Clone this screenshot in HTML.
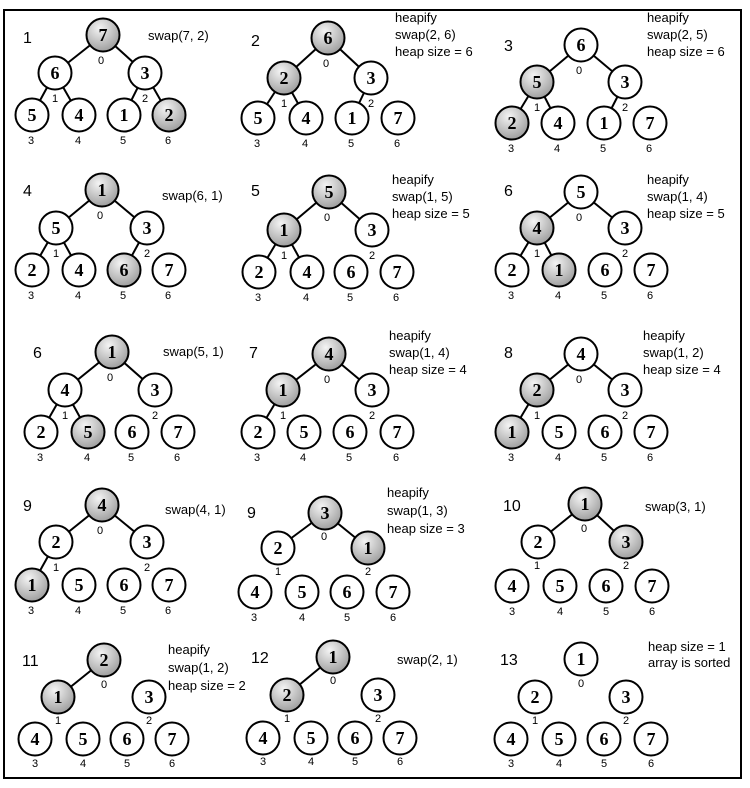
<!DOCTYPE html>
<html><head><meta charset="utf-8"><style>
html,body{margin:0;padding:0;background:#fff;}
svg{display:block}
.n circle{stroke:#000;stroke-width:2;fill:#fff}
.n circle.g{fill:url(#gr)}
.n text{font-family:"Liberation Serif",serif;font-weight:bold;font-size:18px;text-anchor:middle}
.i{font-family:"Liberation Sans",sans-serif;font-size:11px;text-anchor:middle}
.l{font-family:"Liberation Sans",sans-serif;font-size:13px}
.p{font-family:"Liberation Sans",sans-serif;font-size:16px}
line{stroke:#000;stroke-width:2}
</style></head><body>
<svg width="750" height="788" viewBox="0 0 750 788" xmlns="http://www.w3.org/2000/svg">
<defs><radialGradient id="gr" cx="0.4" cy="0.3" r="0.75"><stop offset="0" stop-color="#f4f4f4"/><stop offset="1" stop-color="#9a9a9a"/></radialGradient></defs>
<rect x="4" y="10" width="737" height="768" fill="none" stroke="#000" stroke-width="2"/>

<!-- P1 -->
<text class="p" x="23" y="43">1</text>
<text class="l" x="148" y="40">swap(7, 2)</text>
<line x1="103" y1="35" x2="55" y2="73"/><line x1="103" y1="35" x2="145" y2="73"/>
<line x1="55" y1="73" x2="32" y2="115"/><line x1="55" y1="73" x2="79" y2="115"/>
<line x1="145" y1="73" x2="124" y2="115"/><line x1="145" y1="73" x2="169" y2="115"/>
<g class="n"><circle class="g" cx="103" cy="35" r="16.5"/><text x="103" y="41">7</text>
<circle cx="55" cy="73" r="16.5"/><text x="55" y="79">6</text>
<circle cx="145" cy="73" r="16.5"/><text x="145" y="79">3</text>
<circle cx="32" cy="115" r="16.5"/><text x="32" y="121">5</text>
<circle cx="79" cy="115" r="16.5"/><text x="79" y="121">4</text>
<circle cx="124" cy="115" r="16.5"/><text x="124" y="121">1</text>
<circle class="g" cx="169" cy="115" r="16.5"/><text x="169" y="121">2</text></g>
<text class="i" x="101" y="64">0</text><text class="i" x="55" y="102">1</text><text class="i" x="145" y="102">2</text>
<text class="i" x="31" y="144">3</text><text class="i" x="78" y="144">4</text><text class="i" x="123" y="144">5</text><text class="i" x="168" y="144">6</text>

<!-- P2 -->
<text class="p" x="251" y="46">2</text>
<text class="l" x="395" y="22">heapify</text><text class="l" x="395" y="39">swap(2, 6)</text><text class="l" x="395" y="56">heap size = 6</text>
<line x1="328" y1="38" x2="284" y2="78"/><line x1="328" y1="38" x2="371" y2="78"/>
<line x1="284" y1="78" x2="258" y2="118"/><line x1="284" y1="78" x2="306" y2="118"/>
<line x1="371" y1="78" x2="352" y2="118"/>
<g class="n"><circle class="g" cx="328" cy="38" r="16.5"/><text x="328" y="44">6</text>
<circle class="g" cx="284" cy="78" r="16.5"/><text x="284" y="84">2</text>
<circle cx="371" cy="78" r="16.5"/><text x="371" y="84">3</text>
<circle cx="258" cy="118" r="16.5"/><text x="258" y="124">5</text>
<circle cx="306" cy="118" r="16.5"/><text x="306" y="124">4</text>
<circle cx="352" cy="118" r="16.5"/><text x="352" y="124">1</text>
<circle cx="398" cy="118" r="16.5"/><text x="398" y="124">7</text></g>
<text class="i" x="326" y="67">0</text><text class="i" x="284" y="107">1</text><text class="i" x="371" y="107">2</text>
<text class="i" x="257" y="147">3</text><text class="i" x="305" y="147">4</text><text class="i" x="351" y="147">5</text><text class="i" x="397" y="147">6</text>

<!-- P3 -->
<text class="p" x="504" y="51">3</text>
<text class="l" x="647" y="22">heapify</text><text class="l" x="647" y="39">swap(2, 5)</text><text class="l" x="647" y="56">heap size = 6</text>
<line x1="581" y1="45" x2="537" y2="82"/><line x1="581" y1="45" x2="625" y2="82"/>
<line x1="537" y1="82" x2="512" y2="123"/><line x1="537" y1="82" x2="558" y2="123"/>
<line x1="625" y1="82" x2="604" y2="123"/>
<g class="n"><circle cx="581" cy="45" r="16.5"/><text x="581" y="51">6</text>
<circle class="g" cx="537" cy="82" r="16.5"/><text x="537" y="88">5</text>
<circle cx="625" cy="82" r="16.5"/><text x="625" y="88">3</text>
<circle class="g" cx="512" cy="123" r="16.5"/><text x="512" y="129">2</text>
<circle cx="558" cy="123" r="16.5"/><text x="558" y="129">4</text>
<circle cx="604" cy="123" r="16.5"/><text x="604" y="129">1</text>
<circle cx="650" cy="123" r="16.5"/><text x="650" y="129">7</text></g>
<text class="i" x="579" y="74">0</text><text class="i" x="537" y="111">1</text><text class="i" x="625" y="111">2</text>
<text class="i" x="511" y="152">3</text><text class="i" x="557" y="152">4</text><text class="i" x="603" y="152">5</text><text class="i" x="649" y="152">6</text>

<!-- P4 -->
<text class="p" x="23" y="196">4</text>
<text class="l" x="162" y="200">swap(6, 1)</text>
<line x1="102" y1="190" x2="56" y2="228"/><line x1="102" y1="190" x2="147" y2="228"/>
<line x1="56" y1="228" x2="32" y2="270"/><line x1="56" y1="228" x2="79" y2="270"/>
<line x1="147" y1="228" x2="124" y2="270"/>
<g class="n"><circle class="g" cx="102" cy="190" r="16.5"/><text x="102" y="196">1</text>
<circle cx="56" cy="228" r="16.5"/><text x="56" y="234">5</text>
<circle cx="147" cy="228" r="16.5"/><text x="147" y="234">3</text>
<circle cx="32" cy="270" r="16.5"/><text x="32" y="276">2</text>
<circle cx="79" cy="270" r="16.5"/><text x="79" y="276">4</text>
<circle class="g" cx="124" cy="270" r="16.5"/><text x="124" y="276">6</text>
<circle cx="169" cy="270" r="16.5"/><text x="169" y="276">7</text></g>
<text class="i" x="100" y="219">0</text><text class="i" x="56" y="257">1</text><text class="i" x="147" y="257">2</text>
<text class="i" x="31" y="299">3</text><text class="i" x="78" y="299">4</text><text class="i" x="123" y="299">5</text><text class="i" x="168" y="299">6</text>

<!-- P5 -->
<text class="p" x="251" y="196">5</text>
<text class="l" x="392" y="184">heapify</text><text class="l" x="392" y="201">swap(1, 5)</text><text class="l" x="392" y="218">heap size = 5</text>
<line x1="329" y1="192" x2="284" y2="230"/><line x1="329" y1="192" x2="372" y2="230"/>
<line x1="284" y1="230" x2="259" y2="272"/><line x1="284" y1="230" x2="307" y2="272"/>
<g class="n"><circle class="g" cx="329" cy="192" r="16.5"/><text x="329" y="198">5</text>
<circle class="g" cx="284" cy="230" r="16.5"/><text x="284" y="236">1</text>
<circle cx="372" cy="230" r="16.5"/><text x="372" y="236">3</text>
<circle cx="259" cy="272" r="16.5"/><text x="259" y="278">2</text>
<circle cx="307" cy="272" r="16.5"/><text x="307" y="278">4</text>
<circle cx="351" cy="272" r="16.5"/><text x="351" y="278">6</text>
<circle cx="397" cy="272" r="16.5"/><text x="397" y="278">7</text></g>
<text class="i" x="327" y="221">0</text><text class="i" x="284" y="259">1</text><text class="i" x="372" y="259">2</text>
<text class="i" x="258" y="301">3</text><text class="i" x="306" y="301">4</text><text class="i" x="350" y="301">5</text><text class="i" x="396" y="301">6</text>

<!-- P6 -->
<text class="p" x="504" y="196">6</text>
<text class="l" x="647" y="184">heapify</text><text class="l" x="647" y="201">swap(1, 4)</text><text class="l" x="647" y="218">heap size = 5</text>
<line x1="581" y1="192" x2="537" y2="228"/><line x1="581" y1="192" x2="625" y2="228"/>
<line x1="537" y1="228" x2="512" y2="270"/><line x1="537" y1="228" x2="559" y2="270"/>
<g class="n"><circle cx="581" cy="192" r="16.5"/><text x="581" y="198">5</text>
<circle class="g" cx="537" cy="228" r="16.5"/><text x="537" y="234">4</text>
<circle cx="625" cy="228" r="16.5"/><text x="625" y="234">3</text>
<circle cx="512" cy="270" r="16.5"/><text x="512" y="276">2</text>
<circle class="g" cx="559" cy="270" r="16.5"/><text x="559" y="276">1</text>
<circle cx="605" cy="270" r="16.5"/><text x="605" y="276">6</text>
<circle cx="651" cy="270" r="16.5"/><text x="651" y="276">7</text></g>
<text class="i" x="579" y="221">0</text><text class="i" x="537" y="257">1</text><text class="i" x="625" y="257">2</text>
<text class="i" x="511" y="299">3</text><text class="i" x="558" y="299">4</text><text class="i" x="604" y="299">5</text><text class="i" x="650" y="299">6</text>

<!-- P7 -->
<text class="p" x="33" y="358">6</text>
<text class="l" x="163" y="356">swap(5, 1)</text>
<line x1="112" y1="352" x2="65" y2="390"/><line x1="112" y1="352" x2="155" y2="390"/>
<line x1="65" y1="390" x2="41" y2="432"/><line x1="65" y1="390" x2="88" y2="432"/>
<g class="n"><circle class="g" cx="112" cy="352" r="16.5"/><text x="112" y="358">1</text>
<circle cx="65" cy="390" r="16.5"/><text x="65" y="396">4</text>
<circle cx="155" cy="390" r="16.5"/><text x="155" y="396">3</text>
<circle cx="41" cy="432" r="16.5"/><text x="41" y="438">2</text>
<circle class="g" cx="88" cy="432" r="16.5"/><text x="88" y="438">5</text>
<circle cx="132" cy="432" r="16.5"/><text x="132" y="438">6</text>
<circle cx="178" cy="432" r="16.5"/><text x="178" y="438">7</text></g>
<text class="i" x="110" y="381">0</text><text class="i" x="65" y="419">1</text><text class="i" x="155" y="419">2</text>
<text class="i" x="40" y="461">3</text><text class="i" x="87" y="461">4</text><text class="i" x="131" y="461">5</text><text class="i" x="177" y="461">6</text>

<!-- P8 -->
<text class="p" x="249" y="358">7</text>
<text class="l" x="389" y="340">heapify</text><text class="l" x="389" y="357">swap(1, 4)</text><text class="l" x="389" y="374">heap size = 4</text>
<line x1="329" y1="354" x2="283" y2="390"/><line x1="329" y1="354" x2="372" y2="390"/>
<line x1="283" y1="390" x2="258" y2="432"/>
<g class="n"><circle class="g" cx="329" cy="354" r="16.5"/><text x="329" y="360">4</text>
<circle class="g" cx="283" cy="390" r="16.5"/><text x="283" y="396">1</text>
<circle cx="372" cy="390" r="16.5"/><text x="372" y="396">3</text>
<circle cx="258" cy="432" r="16.5"/><text x="258" y="438">2</text>
<circle cx="304" cy="432" r="16.5"/><text x="304" y="438">5</text>
<circle cx="350" cy="432" r="16.5"/><text x="350" y="438">6</text>
<circle cx="397" cy="432" r="16.5"/><text x="397" y="438">7</text></g>
<text class="i" x="327" y="383">0</text><text class="i" x="283" y="419">1</text><text class="i" x="372" y="419">2</text>
<text class="i" x="257" y="461">3</text><text class="i" x="303" y="461">4</text><text class="i" x="349" y="461">5</text><text class="i" x="396" y="461">6</text>

<!-- P9 -->
<text class="p" x="504" y="358">8</text>
<text class="l" x="643" y="340">heapify</text><text class="l" x="643" y="357">swap(1, 2)</text><text class="l" x="643" y="374">heap size = 4</text>
<line x1="581" y1="354" x2="537" y2="390"/><line x1="581" y1="354" x2="625" y2="390"/>
<line x1="537" y1="390" x2="512" y2="432"/>
<g class="n"><circle cx="581" cy="354" r="16.5"/><text x="581" y="360">4</text>
<circle class="g" cx="537" cy="390" r="16.5"/><text x="537" y="396">2</text>
<circle cx="625" cy="390" r="16.5"/><text x="625" y="396">3</text>
<circle class="g" cx="512" cy="432" r="16.5"/><text x="512" y="438">1</text>
<circle cx="559" cy="432" r="16.5"/><text x="559" y="438">5</text>
<circle cx="605" cy="432" r="16.5"/><text x="605" y="438">6</text>
<circle cx="651" cy="432" r="16.5"/><text x="651" y="438">7</text></g>
<text class="i" x="579" y="383">0</text><text class="i" x="537" y="419">1</text><text class="i" x="625" y="419">2</text>
<text class="i" x="511" y="461">3</text><text class="i" x="558" y="461">4</text><text class="i" x="604" y="461">5</text><text class="i" x="650" y="461">6</text>

<!-- P10 -->
<text class="p" x="23" y="511">9</text>
<text class="l" x="165" y="514">swap(4, 1)</text>
<line x1="102" y1="505" x2="56" y2="542"/><line x1="102" y1="505" x2="147" y2="542"/>
<line x1="56" y1="542" x2="32" y2="585"/>
<g class="n"><circle class="g" cx="102" cy="505" r="16.5"/><text x="102" y="511">4</text>
<circle cx="56" cy="542" r="16.5"/><text x="56" y="548">2</text>
<circle cx="147" cy="542" r="16.5"/><text x="147" y="548">3</text>
<circle class="g" cx="32" cy="585" r="16.5"/><text x="32" y="591">1</text>
<circle cx="79" cy="585" r="16.5"/><text x="79" y="591">5</text>
<circle cx="124" cy="585" r="16.5"/><text x="124" y="591">6</text>
<circle cx="169" cy="585" r="16.5"/><text x="169" y="591">7</text></g>
<text class="i" x="100" y="534">0</text><text class="i" x="56" y="571">1</text><text class="i" x="147" y="571">2</text>
<text class="i" x="31" y="614">3</text><text class="i" x="78" y="614">4</text><text class="i" x="123" y="614">5</text><text class="i" x="168" y="614">6</text>

<!-- P11 -->
<text class="p" x="247" y="518">9</text>
<text class="l" x="387" y="497">heapify</text><text class="l" x="387" y="515">swap(1, 3)</text><text class="l" x="387" y="533">heap size = 3</text>
<line x1="325" y1="513" x2="278" y2="548"/><line x1="325" y1="513" x2="368" y2="548"/>
<g class="n"><circle class="g" cx="325" cy="513" r="16.5"/><text x="325" y="519">3</text>
<circle cx="278" cy="548" r="16.5"/><text x="278" y="554">2</text>
<circle class="g" cx="368" cy="548" r="16.5"/><text x="368" y="554">1</text>
<circle cx="255" cy="592" r="16.5"/><text x="255" y="598">4</text>
<circle cx="302" cy="592" r="16.5"/><text x="302" y="598">5</text>
<circle cx="347" cy="592" r="16.5"/><text x="347" y="598">6</text>
<circle cx="393" cy="592" r="16.5"/><text x="393" y="598">7</text></g>
<text class="i" x="324" y="540">0</text><text class="i" x="278" y="575">1</text><text class="i" x="368" y="575">2</text>
<text class="i" x="254" y="621">3</text><text class="i" x="302" y="621">4</text><text class="i" x="347" y="621">5</text><text class="i" x="393" y="621">6</text>

<!-- P12 -->
<text class="p" x="503" y="511">10</text>
<text class="l" x="645" y="511">swap(3, 1)</text>
<line x1="585" y1="504" x2="538" y2="542"/><line x1="585" y1="504" x2="626" y2="542"/>
<g class="n"><circle class="g" cx="585" cy="504" r="16.5"/><text x="585" y="510">1</text>
<circle cx="538" cy="542" r="16.5"/><text x="538" y="548">2</text>
<circle class="g" cx="626" cy="542" r="16.5"/><text x="626" y="548">3</text>
<circle cx="512" cy="586" r="16.5"/><text x="512" y="592">4</text>
<circle cx="560" cy="586" r="16.5"/><text x="560" y="592">5</text>
<circle cx="606" cy="586" r="16.5"/><text x="606" y="592">6</text>
<circle cx="652" cy="586" r="16.5"/><text x="652" y="592">7</text></g>
<text class="i" x="584" y="532">0</text><text class="i" x="537" y="569">1</text><text class="i" x="626" y="569">2</text>
<text class="i" x="512" y="615">3</text><text class="i" x="560" y="615">4</text><text class="i" x="606" y="615">5</text><text class="i" x="652" y="615">6</text>

<!-- P13 -->
<text class="p" x="22" y="666">11</text>
<text class="l" x="168" y="654">heapify</text><text class="l" x="168" y="672">swap(1, 2)</text><text class="l" x="168" y="690">heap size = 2</text>
<line x1="104" y1="660" x2="58" y2="697"/>
<g class="n"><circle class="g" cx="104" cy="660" r="16.5"/><text x="104" y="666">2</text>
<circle class="g" cx="58" cy="697" r="16.5"/><text x="58" y="703">1</text>
<circle cx="149" cy="697" r="16.5"/><text x="149" y="703">3</text>
<circle cx="35" cy="739" r="16.5"/><text x="35" y="745">4</text>
<circle cx="83" cy="739" r="16.5"/><text x="83" y="745">5</text>
<circle cx="127" cy="739" r="16.5"/><text x="127" y="745">6</text>
<circle cx="172" cy="739" r="16.5"/><text x="172" y="745">7</text></g>
<text class="i" x="104" y="688">0</text><text class="i" x="58" y="724">1</text><text class="i" x="149" y="724">2</text>
<text class="i" x="35" y="767">3</text><text class="i" x="83" y="767">4</text><text class="i" x="127" y="767">5</text><text class="i" x="172" y="767">6</text>

<!-- P14 -->
<text class="p" x="251" y="663">12</text>
<text class="l" x="397" y="664">swap(2, 1)</text>
<line x1="333" y1="657" x2="287" y2="695"/>
<g class="n"><circle class="g" cx="333" cy="657" r="16.5"/><text x="333" y="663">1</text>
<circle class="g" cx="287" cy="695" r="16.5"/><text x="287" y="701">2</text>
<circle cx="378" cy="695" r="16.5"/><text x="378" y="701">3</text>
<circle cx="263" cy="738" r="16.5"/><text x="263" y="744">4</text>
<circle cx="311" cy="738" r="16.5"/><text x="311" y="744">5</text>
<circle cx="355" cy="738" r="16.5"/><text x="355" y="744">6</text>
<circle cx="400" cy="738" r="16.5"/><text x="400" y="744">7</text></g>
<text class="i" x="333" y="684">0</text><text class="i" x="287" y="722">1</text><text class="i" x="378" y="722">2</text>
<text class="i" x="263" y="765">3</text><text class="i" x="311" y="765">4</text><text class="i" x="355" y="765">5</text><text class="i" x="400" y="765">6</text>

<!-- P15 -->
<text class="p" x="500" y="665">13</text>
<text class="l" x="648" y="651">heap size = 1</text><text class="l" x="648" y="667">array is sorted</text>
<g class="n"><circle cx="581" cy="659" r="16.5"/><text x="581" y="665">1</text>
<circle cx="535" cy="697" r="16.5"/><text x="535" y="703">2</text>
<circle cx="626" cy="697" r="16.5"/><text x="626" y="703">3</text>
<circle cx="511" cy="739" r="16.5"/><text x="511" y="745">4</text>
<circle cx="559" cy="739" r="16.5"/><text x="559" y="745">5</text>
<circle cx="604" cy="739" r="16.5"/><text x="604" y="745">6</text>
<circle cx="651" cy="739" r="16.5"/><text x="651" y="745">7</text></g>
<text class="i" x="581" y="687">0</text><text class="i" x="535" y="724">1</text><text class="i" x="626" y="724">2</text>
<text class="i" x="511" y="767">3</text><text class="i" x="559" y="767">4</text><text class="i" x="604" y="767">5</text><text class="i" x="651" y="767">6</text>
</svg>
</body></html>
